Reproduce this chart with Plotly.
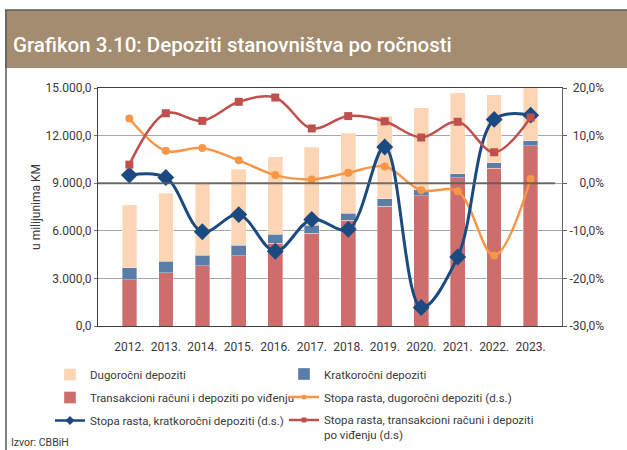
import plotly.graph_objects as go

years = ["2012.", "2013.", "2014.", "2015.", "2016.", "2017.", "2018.", "2019.", "2020.", "2021.", "2022.", "2023."]

# stacked bars (left axis, mil. KM)
transakcioni = [2916, 3357, 3797, 4427, 5224, 5832, 6651, 7532, 8224, 9336, 9945, 11350]
kratkorocni = [755, 734, 672, 650, 546, 525, 461, 482, 357, 273, 335, 336]
dugorocni = [3986, 4280, 4573, 4805, 4888, 4909, 5035, 5203, 5182, 5077, 4280, 4320]

# growth rates (right axis, %)
stopa_dugorocni = [13.6, 6.8, 7.4, 4.8, 1.7, 0.8, 2.2, 3.5, -1.5, -1.7, -15.2, 0.9]
stopa_kratkorocni = [1.7, 1.2, -10.2, -6.6, -14.3, -7.6, -9.7, 7.6, -26.1, -15.5, 13.4, 14.3]
stopa_transakcioni = [3.9, 14.7, 13.1, 17.1, 18.0, 11.5, 14.1, 13.0, 9.6, 12.9, 6.5, 13.8]

y2_tickvals = [-30, -20, -10, 0, 10, 20]
y2_ticktext = ["-30,0%", "-20,0%", "-10,0%", "\u2008\u20070,0%", "\u200810,0%", "\u200820,0%"]

W, H = 627, 450
ML, MR, MT, MB = 98, 65, 88, 124
PW, PH = W - ML - MR, H - MT - MB


def px(x):
    return (x - ML) / PW


def py(y):
    return (H - MB - y) / PH


FONT = "Roboto, Open Sans, sans-serif"
TXT = "#3a3a3a"
C_TRANS, C_KRAT, C_DUG = "#CD6E6C", "#5B7EA8", "#FCD5B4"
L_DUG, L_KRAT, L_TRANS = "#F79646", "#1A4A80", "#C0504D"

fig = go.Figure()
bar_line = dict(color="rgba(255,255,255,0.35)", width=1)
fig.add_trace(go.Bar(x=years, y=transakcioni, name="Transakcioni računi i depoziti po viđenju",
                     marker=dict(color=C_TRANS, line=bar_line), legend="legend", legendrank=2,
                     legendgroup="g2"))
fig.add_trace(go.Bar(x=years, y=kratkorocni, name="Kratkoročni depoziti",
                     marker=dict(color=C_KRAT, line=bar_line), legend="legend2", legendrank=1,
                     legendgroup="g4"))
fig.add_trace(go.Bar(x=years, y=dugorocni, name="Dugoročni depoziti",
                     marker=dict(color=C_DUG, line=bar_line), legend="legend", legendrank=1,
                     legendgroup="g1"))

fig.add_trace(go.Scatter(x=years, y=stopa_dugorocni, yaxis="y2", mode="lines+markers",
                         line=dict(color=L_DUG, width=2.5, shape="spline", smoothing=1),
                         marker=dict(symbol="circle", size=8, color=L_DUG), showlegend=False))
fig.add_trace(go.Scatter(x=years, y=stopa_kratkorocni, yaxis="y2", mode="lines+markers",
                         line=dict(color=L_KRAT, width=3, shape="spline", smoothing=1),
                         marker=dict(symbol="diamond", size=13, color=L_KRAT), showlegend=False))
fig.add_trace(go.Scatter(x=years, y=stopa_transakcioni, yaxis="y2", mode="lines+markers",
                         line=dict(color=L_TRANS, width=2.5, shape="spline", smoothing=1),
                         marker=dict(symbol="square", size=8, color=L_TRANS), showlegend=False))

# legend entries for the lines (small markers like the original legend)
fig.add_trace(go.Scatter(x=[None], y=[None], yaxis="y2", mode="lines+markers",
                         name="Stopa rasta, dugoročni depoziti (d.s.)",
                         line=dict(color=L_DUG, width=2.5), marker=dict(symbol="circle", size=5),
                         legend="legend2", legendrank=2, legendgroup="g5"))
fig.add_trace(go.Scatter(x=[None], y=[None], yaxis="y2", mode="lines+markers",
                         name="Stopa rasta, kratkoročni depoziti (d.s.)",
                         line=dict(color=L_KRAT, width=2.5), marker=dict(symbol="diamond", size=7),
                         legend="legend", legendrank=3, legendgroup="g3"))
fig.add_trace(go.Scatter(x=[None], y=[None], yaxis="y2", mode="lines+markers",
                         name="Stopa rasta, transakcioni računi i depoziti<br>po viđenju (d.s)",
                         line=dict(color=L_TRANS, width=2.5), marker=dict(symbol="square", size=5),
                         legend="legend2", legendrank=3, legendgroup="g6"))

shapes = [
    # title bar
    dict(type="rect", xref="paper", yref="paper", x0=px(5), x1=px(640), y0=py(68), y1=py(10),
         fillcolor="#A38C70", line=dict(width=0), layer="below"),
    # outer frame lines
    dict(type="line", xref="paper", yref="paper", x0=px(5), x1=px(640), y0=py(10), y1=py(10),
         line=dict(color="#5a5a5a", width=1.5)),
    dict(type="line", xref="paper", yref="paper", x0=px(6), x1=px(6), y0=py(10), y1=py(460),
         line=dict(color="#5a5a5a", width=1.5)),
    # dark zero line of right axis
    dict(type="line", xref="paper", yref="y2", x0=0, x1=px(555), y0=0, y1=0,
         line=dict(color="rgba(90,90,90,0.85)", width=2), layer="above"),
]

annotations = [
    dict(text="Grafikon 3.10: Depoziti stanovništva po ročnosti", xref="paper", yref="paper",
         x=px(11), y=py(45), xanchor="left", yanchor="middle", showarrow=False,
         font=dict(family=FONT, size=20.5, color="white", weight=500)),
    dict(text="Izvor: CBBiH", xref="paper", yref="paper", x=px(9), y=py(451),
         xanchor="left", yanchor="bottom", showarrow=False,
         font=dict(family=FONT, size=10.5, color=TXT)),
]

fig.update_layout(
    width=W, height=H,
    margin=dict(l=ML, r=MR, t=MT, b=MB, autoexpand=False),
    paper_bgcolor="white", plot_bgcolor="white",
    separators=",.",
    barmode="stack", bargap=0.6,
    font=dict(family=FONT, size=12, color=TXT),
    shapes=shapes, annotations=annotations,
    xaxis=dict(showgrid=False, showline=True, linecolor="#404040", linewidth=1, mirror=True,
               ticks="", ticklabelstandoff=10, tickfont=dict(size=12, color=TXT)),
    yaxis=dict(range=[0, 15000], dtick=3000, tickformat=",.1f", showgrid=True, gridcolor="#A6A6A6",
               gridwidth=1, showline=True, linecolor="#404040", linewidth=1, ticks="outside",
               ticklen=3, tickcolor="#707070", tickfont=dict(size=12, color=TXT), zeroline=False,
               title=dict(text="u milijunima KM", standoff=2, font=dict(size=12, color=TXT))),
    yaxis2=dict(range=[-30, 20], overlaying="y", side="right", tickvals=y2_tickvals,
                ticktext=y2_ticktext, showgrid=False, showline=True, linecolor="#606060",
                linewidth=1, ticks="outside", ticklen=4, tickcolor="#606060", zeroline=False,
                tickfont=dict(size=12, color=TXT)),
    legend=dict(x=px(50), y=py(360), xanchor="left", yanchor="top", orientation="v",
                font=dict(size=11.5, color=TXT), bgcolor="rgba(0,0,0,0)", itemwidth=30,
                tracegroupgap=4, traceorder="grouped"),
    legend2=dict(x=px(284), y=py(360), xanchor="left", yanchor="top", orientation="v",
                 font=dict(size=11.5, color=TXT), bgcolor="rgba(0,0,0,0)", itemwidth=30,
                 tracegroupgap=4, traceorder="grouped", valign="top"),
)

fig.write_html(
    "out.html",
    config={"displayModeBar": False},
    post_script="document.body.style.margin='0';document.body.style.overflow='hidden';",
)
